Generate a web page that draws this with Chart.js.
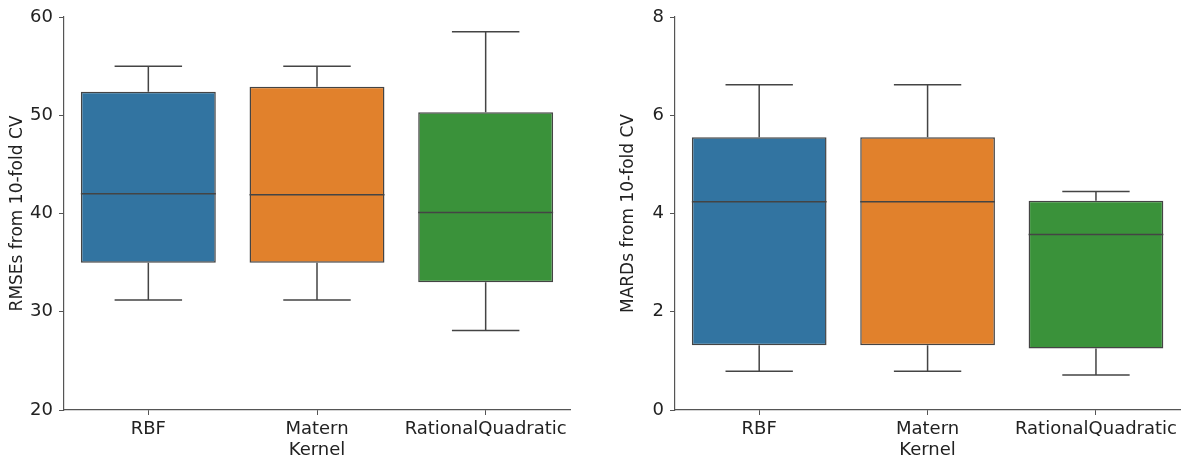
<!DOCTYPE html>
<html>
<head>
<meta charset="utf-8">
<script src="https://cdn.jsdelivr.net/npm/chart.js@4/dist/chart.umd.min.js"></script>
<style>
  html, body { margin: 0; padding: 0; background: #fff; }
  .panel { position: absolute; top: 0; height: 460px; }
  #left { left: 0; width: 600px; }
  #right { left: 600px; width: 581px; }
</style>
</head>
<body>
<div class="panel" id="left"><canvas id="rmseChart" width="600" height="460"></canvas></div>
<div class="panel" id="right"><canvas id="mardChart" width="581" height="460"></canvas></div>
<script>
// noyaux comparés
const kernels = ['RBF', ['Matern', 'Kernel'], 'RationalQuadratic'];
const boxColors = ['#3274a1', '#e1812c', '#3a923a'];

// RMSE (validation croisée 10 plis)
const rmseMin = [31.2, 31.2, 28.1];
const rmseQ1 = [35.0, 35.0, 33.0];
const rmseMedian = [42.0, 41.9, 40.1];
const rmseQ3 = [52.4, 52.9, 50.3];
const rmseMax = [55.0, 55.0, 58.5];
const rmseTicks = [20, 30, 40, 50, 60];

// MARD (validation croisée 10 plis)
const mardMin = [0.79, 0.79, 0.71];
const mardQ1 = [1.32, 1.32, 1.25];
const mardMedian = [4.24, 4.24, 3.57];
const mardQ3 = [5.55, 5.55, 4.26];
const mardMax = [6.62, 6.62, 4.45];
const mardTicks = [0, 2, 4, 6, 8];

const lineColor = '#444444';
const spineColor = '#555555';
const textColor = '#222222';
Chart.defaults.font.family = "'DejaVu Sans', sans-serif";
Chart.defaults.font.size = 18;
Chart.defaults.color = textColor;

// moustaches + médianes, dessinées via les échelles du graphique
const boxWhiskers = {
    id: 'boxWhiskers',
    afterDatasetsDraw(chart, args, opts) {
        const ctx = chart.ctx;
        const y = chart.scales.y;
        const meta = chart.getDatasetMeta(0);
        ctx.save();
        ctx.strokeStyle = lineColor;
        ctx.lineWidth = 1.5;
        meta.data.forEach((bar, i) => {
            const cx = bar.x;
            const half = bar.width / 2;
            const cap = bar.width / 4;
            const yMin = y.getPixelForValue(opts.min[i]);
            const yQ1 = y.getPixelForValue(opts.q1[i]);
            const yMed = y.getPixelForValue(opts.median[i]);
            const yQ3 = y.getPixelForValue(opts.q3[i]);
            const yMax = y.getPixelForValue(opts.max[i]);
            ctx.beginPath();
            ctx.moveTo(cx, yQ3); ctx.lineTo(cx, yMax);
            ctx.moveTo(cx - cap, yMax); ctx.lineTo(cx + cap, yMax);
            ctx.moveTo(cx, yQ1); ctx.lineTo(cx, yMin);
            ctx.moveTo(cx - cap, yMin); ctx.lineTo(cx + cap, yMin);
            ctx.moveTo(cx - half, yMed); ctx.lineTo(cx + half, yMed);
            ctx.stroke();
        });
        ctx.restore();
    }
};

function creerBoxplot(canvasId, cfg) {
    const boxes = cfg.q1.map((v, i) => [v, cfg.q3[i]]);
    return new Chart(document.getElementById(canvasId), {
        type: 'bar',
        data: {
            labels: kernels,
            datasets: [{
                data: boxes,
                backgroundColor: boxColors,
                borderColor: lineColor,
                borderWidth: 1.5,
                borderSkipped: false,
                barPercentage: 0.8,
                categoryPercentage: 1.0
            }]
        },
        options: {
            responsive: false,
            animation: false,
            events: [],
            layout: { padding: { top: 17, right: cfg.padRight, left: 0, bottom: 0 } },
            plugins: {
                legend: { display: false },
                tooltip: { enabled: false },
                boxWhiskers: cfg
            },
            scales: {
                x: {
                    offset: true,
                    grid: { display: true, drawOnChartArea: false, drawTicks: true, tickLength: 5, color: spineColor, offset: false },
                    border: { display: true, color: spineColor, width: 1.2 },
                    ticks: { padding: 4, maxRotation: 0, autoSkip: false, color: textColor, font: { lineHeight: 1.15 } },
                    afterFit(scale) { scale.height = 50; }
                },
                y: {
                    min: cfg.ticks[0],
                    max: cfg.ticks[cfg.ticks.length - 1],
                    afterBuildTicks(scale) { scale.ticks = cfg.ticks.map(v => ({ value: v })); },
                    grid: { display: true, drawOnChartArea: false, drawTicks: true, tickLength: 5, color: spineColor },
                    border: { display: true, color: spineColor, width: 1.2 },
                    ticks: { padding: 6, color: textColor },
                    title: { display: true, text: cfg.title, color: textColor, font: { size: 17 }, padding: { top: cfg.titlePad, bottom: 0 } },
                    afterFit(scale) { scale.width = cfg.axisWidth; }
                }
            }
        },
        plugins: [boxWhiskers]
    });
}

creerBoxplot('rmseChart', {
    title: 'RMSEs from 10-fold CV',
    min: rmseMin, q1: rmseQ1, median: rmseMedian, q3: rmseQ3, max: rmseMax,
    ticks: rmseTicks, axisWidth: 64, padRight: 30, titlePad: 7
});
creerBoxplot('mardChart', {
    title: 'MARDs from 10-fold CV',
    min: mardMin, q1: mardQ1, median: mardMedian, q3: mardQ3, max: mardMax,
    ticks: mardTicks, axisWidth: 75, padRight: 0, titlePad: 18
});
</script>
</body>
</html>
